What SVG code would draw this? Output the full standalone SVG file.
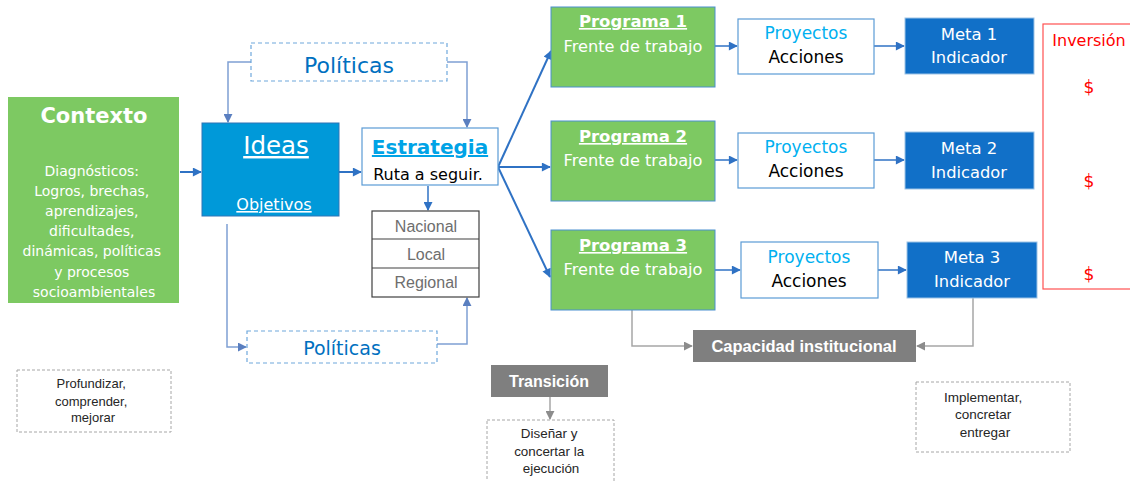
<svg xmlns="http://www.w3.org/2000/svg" width="1130" height="481" viewBox="0 0 1130 481">
<defs>
<style>
.t{font-family:"DejaVu Sans",Verdana,sans-serif;text-anchor:middle}
.a{font-family:"Liberation Sans",Arial,sans-serif;text-anchor:middle}
.green{fill:#7DC962;stroke:#4A8FD0;stroke-width:1}
.proj{fill:#fff;stroke:#5B9BD5;stroke-width:1.2}
.meta{fill:#1170C8;stroke:#9DC3E6;stroke-width:1}
.w{fill:#fff}
.dashb{fill:#fff;stroke:#6FA8DC;stroke-width:1.2;stroke-dasharray:4 3}
.dashg{fill:#fff;stroke:#A6A6A6;stroke-width:1;stroke-dasharray:3 2}
.gray{fill:#7F7F7F}
.c{fill:none;stroke:#2F72C4;stroke-width:2}
.pc{fill:none;stroke:#7FA0D4;stroke-width:1.5}
.gc{fill:none;stroke:#A6A6A6;stroke-width:1.5}
</style>
<marker id="ab" viewBox="0 0 10 10" refX="9" refY="5" markerWidth="10" markerHeight="9" markerUnits="userSpaceOnUse" orient="auto"><path d="M0,0 L10,5 L0,10 z" fill="#2F72C4"/></marker>
<marker id="ap" viewBox="0 0 10 10" refX="9" refY="5" markerWidth="9" markerHeight="9" markerUnits="userSpaceOnUse" orient="auto"><path d="M0,0 L10,5 L0,10 z" fill="#5A7FC0"/></marker>
<marker id="ag" viewBox="0 0 10 10" refX="9" refY="5" markerWidth="9" markerHeight="9" markerUnits="userSpaceOnUse" orient="auto"><path d="M0,0 L10,5 L0,10 z" fill="#8C8C8C"/></marker>
</defs>

<g id="connectors">
<line class="c" x1="180" y1="172" x2="201" y2="172" marker-end="url(#ab)"/>
<line class="c" x1="339" y1="172" x2="361" y2="172" marker-end="url(#ab)"/>
<line class="c" x1="428" y1="186" x2="428" y2="210" marker-end="url(#ab)" style="stroke-width:1.5"/>
<line class="c" x1="498" y1="167" x2="551" y2="51" marker-end="url(#ab)"/>
<line class="c" x1="498" y1="167" x2="550" y2="167" marker-end="url(#ab)"/>
<line class="c" x1="498" y1="167" x2="550" y2="277" marker-end="url(#ab)"/>
<line class="c" x1="715" y1="46" x2="737" y2="46" marker-end="url(#ab)" style="stroke-width:1.5"/>
<line class="c" x1="874" y1="46" x2="904" y2="46" marker-end="url(#ab)" style="stroke-width:1.5"/>
<line class="c" x1="715" y1="160" x2="737" y2="160" marker-end="url(#ab)" style="stroke-width:1.5"/>
<line class="c" x1="874" y1="160" x2="904" y2="160" marker-end="url(#ab)" style="stroke-width:1.5"/>
<line class="c" x1="715" y1="270" x2="740" y2="270" marker-end="url(#ab)" style="stroke-width:1.5"/>
<line class="c" x1="878" y1="270" x2="906" y2="270" marker-end="url(#ab)" style="stroke-width:1.5"/>
<polyline class="pc" points="251,62 228,62 228,122" marker-end="url(#ap)"/>
<polyline class="pc" points="447,62 467,62 467,127" marker-end="url(#ap)"/>
<polyline class="pc" points="227,224 227,347 246,347" marker-end="url(#ap)"/>
<polyline class="pc" points="437,344 467,344 467,298" marker-end="url(#ap)"/>
<polyline class="gc" points="632,310 632,346 692,346" marker-end="url(#ag)"/>
<polyline class="gc" points="973,298 973,346 917,346" marker-end="url(#ag)"/>
<line class="gc" x1="550" y1="397" x2="550" y2="419" marker-end="url(#ag)"/>
</g>

<g id="contexto">
<rect x="8" y="97" width="171" height="206" fill="#7DC962"/>
<text class="t w" x="94" y="123" font-size="21" font-weight="bold">Contexto</text>
<text class="t w" font-size="14">
<tspan x="94" y="176">Diagnósticos:</tspan>
<tspan x="94" y="196">Logros,  brechas,</tspan>
<tspan x="94" y="216">aprendizajes,</tspan>
<tspan x="94" y="236">dificultades,</tspan>
<tspan x="94" y="256">dinámicas, políticas</tspan>
<tspan x="94" y="277">y procesos</tspan>
<tspan x="94" y="297">socioambientales</tspan>
</text>
</g>

<g id="ideas">
<rect x="202" y="123" width="137" height="93" fill="#0099D9" stroke="#2E75B6" stroke-width="1"/>
<text class="t w" x="276" y="154" font-size="24.5" text-decoration="underline">Ideas</text>
<text class="t w" x="274" y="210" font-size="16" text-decoration="underline">Objetivos</text>
</g>

<g id="estrategia">
<rect x="362" y="128" width="136" height="57" fill="#fff" stroke="#5B9BD5" stroke-width="1.2"/>
<text class="t" x="430" y="154" font-size="20" font-weight="bold" fill="#00A3E6" text-decoration="underline">Estrategia</text>
<text class="t" x="428" y="180" font-size="16" fill="#000">Ruta a seguir.</text>
</g>

<g id="niveles">
<rect x="372" y="211" width="107" height="86" fill="#fff" stroke="#404040" stroke-width="1.2"/>
<line x1="372" y1="239" x2="479" y2="239" stroke="#404040" stroke-width="1.2"/>
<line x1="372" y1="268" x2="479" y2="268" stroke="#404040" stroke-width="1.2"/>
<text class="a" x="426" y="232" font-size="16" fill="#6E6E6E">Nacional</text>
<text class="a" x="426" y="260" font-size="16" fill="#6E6E6E">Local</text>
<text class="a" x="426" y="288" font-size="16" fill="#6E6E6E">Regional</text>
</g>

<g id="politicas-top">
<rect class="dashb" x="251" y="43" width="196" height="38"/>
<text class="t" x="349" y="73" font-size="22" fill="#0070C0">Políticas</text>
</g>

<g id="politicas-bottom">
<rect class="dashb" x="247" y="331" width="190" height="32"/>
<text class="t" x="342" y="355" font-size="19" fill="#0070C0">Políticas</text>
</g>

<g id="programa1">
<rect class="green" x="551" y="7" width="164" height="80"/>
<text class="t w" x="633" y="27" font-size="16.5" font-weight="bold" text-decoration="underline">Programa 1</text>
<text class="t w" x="633" y="52" font-size="16.2">Frente de trabajo</text>
</g>
<g id="programa2">
<rect class="green" x="551" y="121" width="164" height="80"/>
<text class="t w" x="633" y="142" font-size="16.5" font-weight="bold" text-decoration="underline">Programa 2</text>
<text class="t w" x="633" y="166" font-size="16.2">Frente de trabajo</text>
</g>
<g id="programa3">
<rect class="green" x="551" y="230" width="164" height="80"/>
<text class="t w" x="633" y="251" font-size="16.5" font-weight="bold" text-decoration="underline">Programa 3</text>
<text class="t w" x="633" y="275" font-size="16.2">Frente de trabajo</text>
</g>

<g id="proyectos1">
<rect class="proj" x="738" y="19" width="136" height="55"/>
<text class="t" x="806" y="39" font-size="17" fill="#00B0F0">Proyectos</text>
<text class="t" x="806" y="63" font-size="17" fill="#000">Acciones</text>
</g>
<g id="proyectos2">
<rect class="proj" x="738" y="133" width="136" height="55"/>
<text class="t" x="806" y="153" font-size="17" fill="#00B0F0">Proyectos</text>
<text class="t" x="806" y="177" font-size="17" fill="#000">Acciones</text>
</g>
<g id="proyectos3">
<rect class="proj" x="741" y="242" width="137" height="56"/>
<text class="t" x="809" y="263" font-size="17" fill="#00B0F0">Proyectos</text>
<text class="t" x="809" y="287" font-size="17" fill="#000">Acciones</text>
</g>

<g id="meta1">
<rect class="meta" x="905" y="18" width="129" height="56"/>
<text class="t w" x="969" y="40" font-size="16.5">Meta 1</text>
<text class="t w" x="969" y="63" font-size="16.3">Indicador</text>
</g>
<g id="meta2">
<rect class="meta" x="905" y="132" width="129" height="57"/>
<text class="t w" x="969" y="154" font-size="16.5">Meta 2</text>
<text class="t w" x="969" y="178" font-size="16.3">Indicador</text>
</g>
<g id="meta3">
<rect class="meta" x="907" y="242" width="130" height="56"/>
<text class="t w" x="972" y="263" font-size="16.5">Meta 3</text>
<text class="t w" x="972" y="287" font-size="16.3">Indicador</text>
</g>

<g id="inversion">
<rect x="1043" y="24" width="95" height="265" fill="#fff" stroke="#FF5050" stroke-width="1.2"/>
<text class="t" x="1089" y="46" font-size="16" fill="#FF0000">Inversión</text>
<text class="t" x="1089" y="93" font-size="17" fill="#FF0000">$</text>
<text class="t" x="1089" y="187" font-size="17" fill="#FF0000">$</text>
<text class="t" x="1089" y="280" font-size="17" fill="#FF0000">$</text>
</g>

<g id="capacidad">
<rect class="gray" x="693" y="330" width="223" height="32"/>
<text class="a w" x="804" y="352" font-size="16.5" font-weight="bold">Capacidad institucional</text>
</g>

<g id="transicion">
<rect class="gray" x="491" y="365" width="117" height="32"/>
<text class="a w" x="549" y="387" font-size="16" font-weight="bold">Transición</text>
</g>

<g id="disenar">
<rect class="dashg" x="487" y="420" width="127" height="65"/>
<text class="a" font-size="13.4" fill="#262626">
<tspan x="551" y="438">Diseñar y</tspan>
<tspan x="551" y="456">concertar la</tspan>
<tspan x="551" y="473">ejecución</tspan>
</text>
</g>

<g id="profundizar">
<rect class="dashg" x="17" y="370" width="154" height="62"/>
<text class="a" font-size="13" fill="#262626">
<tspan x="93" y="388">Profundizar,</tspan>
<tspan x="93" y="406">comprender,</tspan>
<tspan x="93" y="422">mejorar</tspan>
</text>
</g>

<g id="implementar">
<rect class="dashg" x="916" y="382" width="154" height="70"/>
<text class="a" font-size="13.5" fill="#262626">
<tspan x="985" y="402">Implementar,</tspan>
<tspan x="985" y="419">concretar</tspan>
<tspan x="985" y="437">entregar</tspan>
</text>
</g>
</svg>
